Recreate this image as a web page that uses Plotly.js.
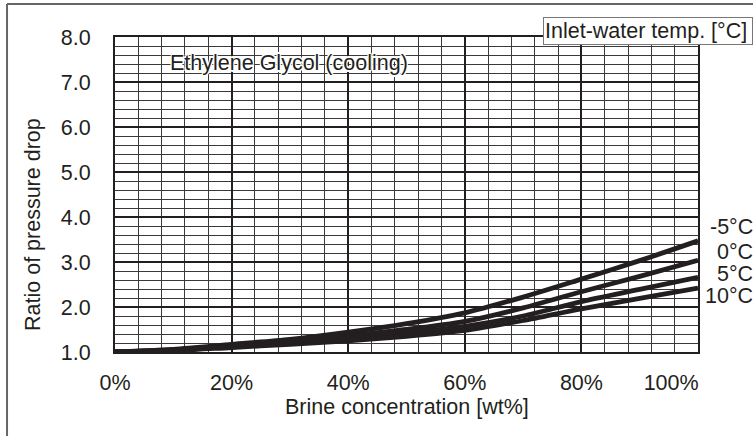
<!DOCTYPE html>
<html>
<head>
<meta charset="utf-8">
<script src="https://cdn.plot.ly/plotly-3.0.1.min.js"></script>
<style>
  html, body { margin: 0; padding: 0; background: #fff; }
  #chart { width: 753px; height: 436px; }
</style>
</head>
<body>
<div id="chart"></div>
<script>
// Brine concentration [wt%]
const concentration = [0, 10, 20, 30, 40, 50, 60, 70, 80, 90, 100];
// Ratio of pressure drop for each inlet-water temperature
const ratioMinus5 = [1.00, 1.06, 1.17, 1.28, 1.44, 1.63, 1.87, 2.22, 2.62, 3.03, 3.47];
const ratio0      = [1.00, 1.05, 1.14, 1.24, 1.36, 1.50, 1.68, 1.98, 2.34, 2.68, 3.04];
const ratio5      = [1.00, 1.04, 1.12, 1.20, 1.30, 1.42, 1.57, 1.80, 2.12, 2.39, 2.66];
const ratio10     = [1.00, 1.03, 1.10, 1.17, 1.25, 1.35, 1.48, 1.70, 1.96, 2.19, 2.42];
const seriesNames = ["-5°C", "0°C", "5°C", "10°C"];
const seriesValues = [ratioMinus5, ratio0, ratio5, ratio10];
const yTickVals = [1, 2, 3, 4, 5, 6, 7, 8];
const xTickVals = [0, 20, 40, 60, 80, 100];
const xTickText = ["0%", "20%", "40%", "60%", "80%", "100%"];

const ink = "#231f20";
const FONT = "Liberation Sans, Arial, sans-serif";
const FS = 21.5;

const traces = seriesValues.map((vals, i) => ({
  x: concentration,
  y: vals,
  name: seriesNames[i],
  type: "scatter",
  mode: "lines",
  line: { color: ink, width: 4.8, shape: "spline", smoothing: 0.8 },
  hoverinfo: "skip",
  cliponaxis: true
}));

// the last x tick label sits left of its gridline in the reference: pad it with trailing no-break spaces
const NB = "\u00A0";
const xTickShown = xTickText.map((t, i) => i === xTickText.length - 1 ? t + NB.repeat(9) : t);

// label positions (paper coords) for the temperature labels on the right
const labelY = [0.397, 0.318, 0.248, 0.178];

const annotations = [
  {
    text: "Ethylene Glycol (cooling)",
    xref: "paper", yref: "paper", x: 0.2993, y: 0.9175,
    xanchor: "center", yanchor: "middle", showarrow: false,
    font: { family: FONT, size: FS, color: ink,
            shadow: "white 1px 1px 0, white -1px -1px 0, white 1px -1px 0, white -1px 1px 0, white 0 2px 0, white 0 -2px 0" }
  },
  {
    text: "Inlet-water temp. [°C]",
    xref: "paper", yref: "paper", x: 0.734, y: 1.019,
    xanchor: "left", yanchor: "middle", showarrow: false,
    width: 206, align: "left",
    bgcolor: "#ffffff", bordercolor: "#777777", borderwidth: 1, borderpad: 1,
    font: { family: FONT, size: FS, color: ink }
  },
  {
    text: "Ratio of pressure drop",
    xref: "paper", yref: "paper", x: -0.1398, y: 0.4048,
    xanchor: "center", yanchor: "middle", textangle: -90, showarrow: false,
    font: { family: FONT, size: FS, color: ink }
  },
  {
    text: "Brine concentration [wt%]",
    xref: "paper", yref: "paper", x: 0.5009, y: -0.176,
    xanchor: "center", yanchor: "middle", showarrow: false,
    font: { family: FONT, size: FS, color: ink }
  }
].concat(seriesNames.map((n, i) => ({
  text: n,
  xref: "paper", yref: "paper", x: 1.098, y: labelY[i],
  xanchor: "right", yanchor: "middle", showarrow: false,
  font: { family: FONT, size: FS, color: ink }
})));

const shapes = [
  { type: "line", xref: "paper", yref: "paper", x0: -0.1852, x1: 1.12, y0: 1.1048, y1: 1.1048,
    line: { color: "#666666", width: 2 } },
  { type: "line", xref: "paper", yref: "paper", x0: -0.1852, x1: -0.1852, y0: 1.1048, y1: -0.3,
    line: { color: "#666666", width: 2 } }
];

const layout = {
  width: 753, height: 436,
  margin: { l: 115, r: 55, t: 37, b: 84, pad: 0 },
  paper_bgcolor: "#ffffff", plot_bgcolor: "#ffffff",
  showlegend: false,
  font: { family: FONT, size: FS, color: ink },
  xaxis: {
    range: [0, 100], tickvals: xTickVals, ticktext: xTickShown,
    ticks: "", ticklabelstandoff: 10,
    showgrid: true, gridcolor: ink, gridwidth: 2,
    minor: { dtick: 4, tick0: 0, showgrid: true, gridcolor: "#3a3a3a", gridwidth: 1, ticks: "" },
    showline: true, mirror: true, linecolor: ink, linewidth: 2,
    zeroline: false, fixedrange: true,
    tickfont: { family: FONT, size: FS, color: ink }
  },
  yaxis: {
    range: [1, 8], tickvals: yTickVals, ticktext: yTickVals.map(v => v.toFixed(1)),
    ticks: "", ticklabelstandoff: 18,
    showgrid: true, gridcolor: ink, gridwidth: 2,
    minor: { dtick: 0.2, tick0: 1, showgrid: true, gridcolor: "#3a3a3a", gridwidth: 1, ticks: "" },
    showline: true, mirror: true, linecolor: ink, linewidth: 2,
    zeroline: false, fixedrange: true,
    tickfont: { family: FONT, size: FS, color: ink }
  },
  annotations: annotations,
  shapes: shapes
};

Plotly.newPlot("chart", traces, layout, { staticPlot: true, displayModeBar: false });
</script>
</body>
</html>
